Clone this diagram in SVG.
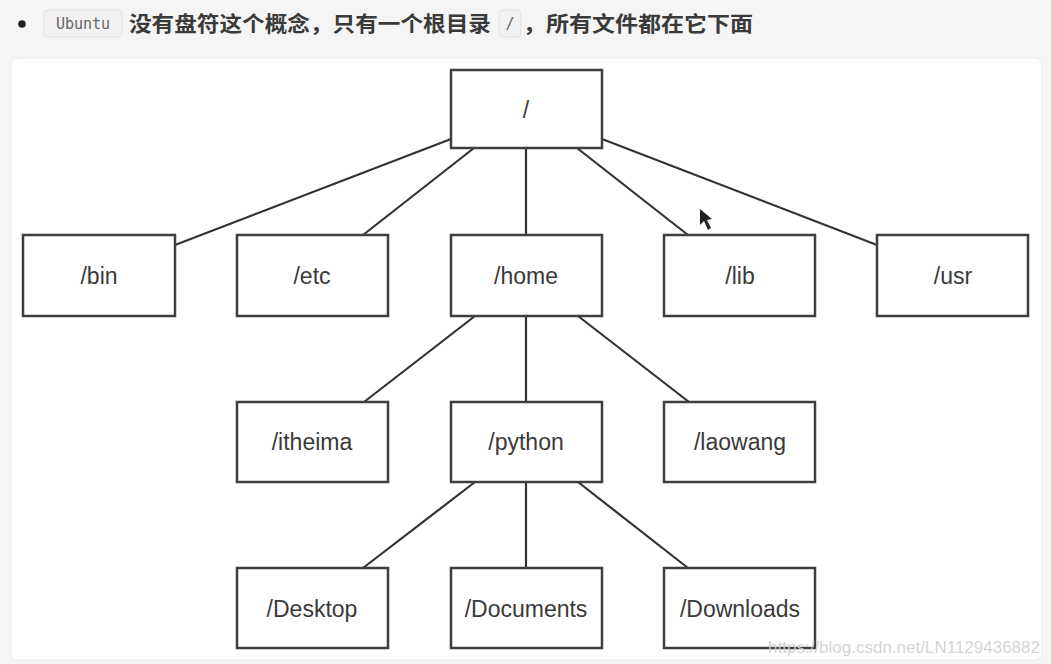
<svg xmlns="http://www.w3.org/2000/svg" width="1051" height="664" viewBox="0 0 1051 664">
  <style>
    .box { fill: #ffffff; stroke: #3f3f3f; stroke-width: 2.5; }
    .lbl { font-family: "Liberation Sans", Arial, "Noto Sans", sans-serif; font-size: 23px; fill: #3a3a3a; text-anchor: middle; }
    .conn line { stroke: #333333; stroke-width: 2.2; stroke-linecap: round; }
    .cn { font-family: "Noto Sans CJK SC", "Noto Sans", sans-serif; font-size: 21px; font-weight: bold; fill: #3a3a3a; }
    .code { fill: #f2f2f2; stroke: #e2e2e2; stroke-width: 1; }
    .mono { font-family: "DejaVu Sans Mono", "Liberation Mono", monospace; font-size: 15px; fill: #666666; }
  </style>
  <rect x="0" y="0" width="1051" height="664" fill="#f5f5f5"/>
  <!-- header -->
  <g id="header">
    <circle cx="22" cy="24" r="3.8" fill="#222222"/>
    <rect class="code" x="44" y="10" width="78" height="27" rx="4"/>
    <text class="mono" x="83" y="29" text-anchor="middle">Ubuntu</text>
    <text class="cn" x="129" y="31" textLength="362" lengthAdjust="spacingAndGlyphs">没有盘符这个概念，只有一个根目录</text>
    <rect class="code" x="499" y="10" width="22" height="27" rx="4"/>
    <text class="mono" x="510" y="29" text-anchor="middle">/</text>
    <text class="cn" x="523" y="31" textLength="230" lengthAdjust="spacingAndGlyphs">，所有文件都在它下面</text>
  </g>
  <!-- card -->
  <rect x="11" y="58" width="1031" height="602" rx="7" fill="#ffffff" stroke="#ececec" stroke-width="1"/>

  <g id="connectors" class="conn">
    <line x1="451" y1="139" x2="175" y2="245"/>
    <line x1="474" y1="148" x2="363" y2="235"/>
    <line x1="526" y1="148" x2="526" y2="235"/>
    <line x1="577" y1="148" x2="688" y2="235"/>
    <line x1="602" y1="139" x2="877" y2="245"/>
    <line x1="475" y1="316" x2="364" y2="402"/>
    <line x1="526" y1="316" x2="526" y2="402"/>
    <line x1="578" y1="316" x2="689" y2="402"/>
    <line x1="475" y1="482" x2="363" y2="568"/>
    <line x1="526" y1="482" x2="526" y2="568"/>
    <line x1="578" y1="482" x2="688" y2="568"/>
  </g>

  <g id="root"><rect class="box" x="451" y="70" width="151" height="78"/><text class="lbl" x="526" y="118">/</text></g>
  <g id="bin"><rect class="box" x="23" y="235" width="152" height="81"/><text class="lbl" x="99" y="284">/bin</text></g>
  <g id="etc"><rect class="box" x="237" y="235" width="151" height="81"/><text class="lbl" x="312" y="284">/etc</text></g>
  <g id="home"><rect class="box" x="451" y="235" width="151" height="81"/><text class="lbl" x="526" y="284">/home</text></g>
  <g id="lib"><rect class="box" x="664" y="235" width="151" height="81"/><text class="lbl" x="740" y="284">/lib</text></g>
  <g id="usr"><rect class="box" x="877" y="235" width="151" height="81"/><text class="lbl" x="953" y="284">/usr</text></g>
  <g id="itheima"><rect class="box" x="237" y="402" width="151" height="80"/><text class="lbl" x="312" y="450">/itheima</text></g>
  <g id="python"><rect class="box" x="451" y="402" width="151" height="80"/><text class="lbl" x="526" y="450">/python</text></g>
  <g id="laowang"><rect class="box" x="664" y="402" width="151" height="80"/><text class="lbl" x="740" y="450">/laowang</text></g>
  <g id="desktop"><rect class="box" x="237" y="568" width="151" height="80"/><text class="lbl" x="312" y="617">/Desktop</text></g>
  <g id="documents"><rect class="box" x="451" y="568" width="151" height="80"/><text class="lbl" x="526" y="617">/Documents</text></g>
  <g id="downloads"><rect class="box" x="664" y="568" width="151" height="80"/><text class="lbl" x="740" y="617">/Downloads</text></g>

  <!-- mouse pointer -->
  <polygon points="700,209 700,225 704,221 708,230 711,228 707,220 712,219" fill="#222222"/>
  <!-- watermark -->
  <text x="1040" y="653" text-anchor="end" font-family="Liberation Sans, Arial, sans-serif" font-size="17" fill="#cfcfcf" fill-opacity="0.9">https://blog.csdn.net/LN1129436882</text>
</svg>
